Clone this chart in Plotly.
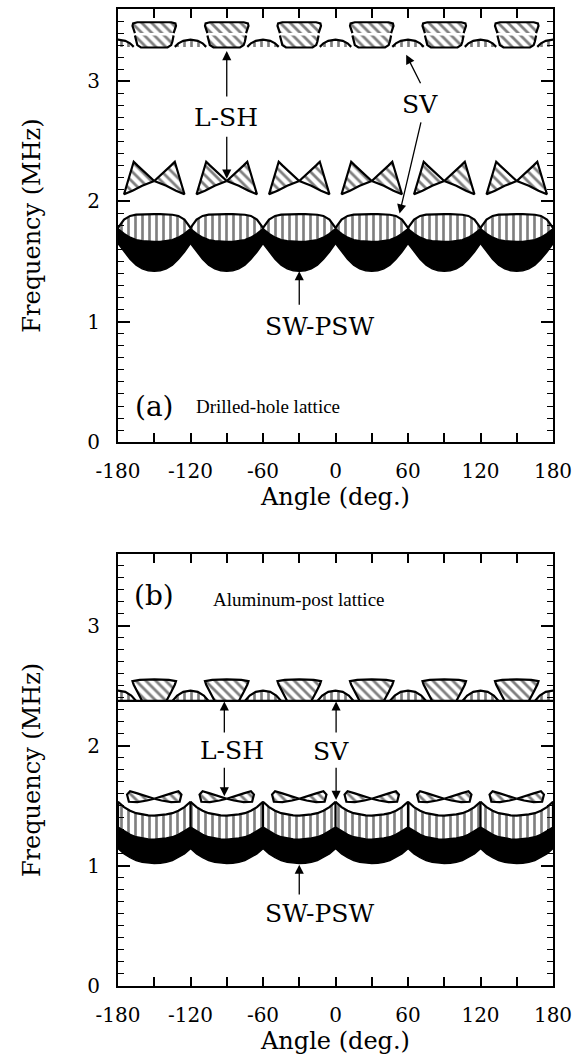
import plotly.graph_objects as go

FONT = "DejaVu Serif"
FONT2 = "Liberation Serif"

# ---------------- data ----------------
SEG_CENTERS = [-210, -150, -90, -30, 30, 90, 150, 210]   # band segment centres (deg)
CUSP_CENTERS = [-180, -120, -60, 0, 60, 120, 180]        # zone-boundary cusps (deg)

# offsets within one 60-degree period (deg)
U = [-30, -25, -20, -15, -10, -5, 0, 5, 10, 15, 20, 25, 30]

# Panel (a): drilled-hole lattice
A_SW_LOW = [1.65, 1.58, 1.52, 1.47, 1.44, 1.425, 1.42, 1.425, 1.44, 1.47, 1.52, 1.58, 1.65]
A_SW_HIGH = [1.77, 1.73, 1.70, 1.68, 1.67, 1.665, 1.665, 1.665, 1.67, 1.68, 1.70, 1.73, 1.77]
A_SV_HIGH = [1.78, 1.85, 1.88, 1.89, 1.895, 1.895, 1.895, 1.895, 1.895, 1.89, 1.88, 1.85, 1.78]
A_LSH_WING_U = [0, 8, 14, 17, 21, 25, 18, 10, 0]
A_LSH_WING_F = [2.17, 2.24, 2.30, 2.33, 2.20, 2.06, 2.09, 2.13, 2.17]
A_TRAP_UP_U = [-16, -18, -17.5, -14, 0, 14, 17.5, 18, 16]
A_TRAP_UP_F = [3.40, 3.46, 3.48, 3.49, 3.49, 3.49, 3.48, 3.46, 3.40]
A_TRAP_LO_U = [-16, -15, -14, -11, 0, 11, 14, 15, 16]
A_TRAP_LO_F = [3.38, 3.33, 3.30, 3.28, 3.28, 3.28, 3.30, 3.33, 3.38]
A_HUMP_U = [-13, -10, -6, 0, 6, 10, 13]
A_HUMP_F = [3.285, 3.315, 3.335, 3.345, 3.335, 3.315, 3.285]

# Panel (b): aluminum-post lattice
B_SW_LOW = [1.145, 1.10, 1.07, 1.045, 1.03, 1.022, 1.02, 1.022, 1.03, 1.045, 1.07, 1.10, 1.145]
B_SW_HIGH = [1.32, 1.29, 1.26, 1.24, 1.23, 1.222, 1.22, 1.222, 1.23, 1.24, 1.26, 1.29, 1.32]
B_SV_HIGH = [1.535, 1.49, 1.46, 1.44, 1.43, 1.422, 1.42, 1.422, 1.43, 1.44, 1.46, 1.49, 1.535]
B_LSH_WING_U = [0, 6, 14, 20, 22.5, 21, 14, 6, 0]
B_LSH_WING_F = [1.56, 1.582, 1.605, 1.622, 1.595, 1.535, 1.532, 1.545, 1.56]
B_TRAP_U = [-10, -14, -17, -18, -12, 0, 12, 18, 17, 14, 10]
B_TRAP_F = [2.375, 2.45, 2.51, 2.54, 2.55, 2.555, 2.55, 2.54, 2.51, 2.45, 2.375]
B_HUMP_U = [-15, -11, -6, 0, 6, 11, 15]
B_HUMP_F = [2.375, 2.42, 2.45, 2.46, 2.45, 2.42, 2.375]
B_BASELINE = 2.375

X_TICKS = [-180, -120, -60, 0, 60, 120, 180]
Y_TICKS = [0, 1, 2, 3]


# ---------------- helpers ----------------
def tile(centers, us, fs, mirror=False):
    xs, ys = [], []
    for c in centers:
        xs += [c + u for u in us] + [None]
        ys += list(fs) + [None]
        if mirror:
            xs += [c - u for u in us] + [None]
            ys += list(fs) + [None]
    return xs, ys


def band(centers, us, low, high):
    xs, ys = [], []
    for c in centers:
        xs += [c + u for u in us] + [c + u for u in reversed(us)] + [None]
        ys += list(low) + list(reversed(high)) + [None]
    return xs, ys


def poly(xs, ys, xa, ya, kind):
    kw = dict(x=xs, y=ys, xaxis=xa, yaxis=ya, mode="lines", fill="toself",
              line=dict(color="black", width=2.2), hoverinfo="skip")
    if kind == "solid":
        kw["fillcolor"] = "black"
        kw["line"] = dict(color="black", width=1.5)
    elif kind == "vert":
        kw["fillcolor"] = "white"
        kw["fillpattern"] = dict(shape="|", fgcolor="black", bgcolor="white",
                                 size=7, solidity=0.38)
    elif kind == "diag":
        kw["fillcolor"] = "white"
        kw["fillpattern"] = dict(shape="\\", fgcolor="black", bgcolor="white",
                                 size=7, solidity=0.4)
    return go.Scatter(**kw)


fig = go.Figure()

# ---- panel (a)
xa, ya = "x", "y"
fig.add_trace(poly(*band(SEG_CENTERS, U, A_SW_LOW, A_SW_HIGH), xa, ya, "solid"))
fig.add_trace(poly(*band(SEG_CENTERS, U, A_SW_HIGH, A_SV_HIGH), xa, ya, "vert"))
fig.add_trace(poly(*tile(SEG_CENTERS, A_LSH_WING_U, A_LSH_WING_F, mirror=True), xa, ya, "diag"))
fig.add_trace(poly(*tile(SEG_CENTERS, A_TRAP_UP_U, A_TRAP_UP_F), xa, ya, "diag"))
fig.add_trace(poly(*tile(SEG_CENTERS, A_TRAP_LO_U, A_TRAP_LO_F), xa, ya, "diag"))
fig.add_trace(poly(*tile(CUSP_CENTERS, A_HUMP_U, A_HUMP_F), xa, ya, "vert"))

# ---- panel (b)
xa, ya = "x2", "y2"
fig.add_trace(poly(*band(SEG_CENTERS, U, B_SW_LOW, B_SW_HIGH), xa, ya, "solid"))
fig.add_trace(poly(*band(SEG_CENTERS, U, B_SW_HIGH, B_SV_HIGH), xa, ya, "vert"))
fig.add_trace(poly(*tile(SEG_CENTERS, B_LSH_WING_U, B_LSH_WING_F, mirror=True), xa, ya, "diag"))
fig.add_trace(poly(*tile(SEG_CENTERS, B_TRAP_U, B_TRAP_F), xa, ya, "diag"))
fig.add_trace(poly(*tile(CUSP_CENTERS, B_HUMP_U, B_HUMP_F), xa, ya, "vert"))
fig.add_trace(go.Scatter(x=[-180, 180], y=[B_BASELINE, B_BASELINE], xaxis=xa, yaxis=ya,
                         mode="lines", line=dict(color="black", width=2.2), hoverinfo="skip"))

# ---------------- annotations ----------------
ann = []


def label(xref, yref, x, y, text, size, xanchor="center", family=FONT):
    ann.append(dict(xref=xref, yref=yref, x=x, y=y, text=text, showarrow=False,
                    xanchor=xanchor, yanchor="middle",
                    font=dict(family=family, size=size, color="black")))


def arrow(xref, yref, x0, y0, x1, y1):
    ann.append(dict(xref=xref, yref=yref, axref=xref, ayref=yref,
                    x=x1, y=y1, ax=x0, ay=y0, text="", showarrow=True,
                    arrowhead=2, arrowsize=1.4, arrowwidth=1.3, arrowcolor="black",
                    standoff=0, startstandoff=0))


# panel (a)
label("x", "y", -91, 2.70, "L-SH", 25)
arrow("x", "y", -90, 2.86, -90, 3.25)
arrow("x", "y", -90, 2.55, -90, 2.19)
label("x", "y", 70, 2.81, "SV", 25)
arrow("x", "y", 71, 2.97, 58.5, 3.22)
arrow("x", "y", 71, 2.67, 53, 1.90)
label("x", "y", -13, 0.96, "SW-PSW", 25)
arrow("x", "y", -30, 1.13, -30, 1.42)
label("x", "y", -150, 0.30, "(a)", 28)
label("x", "y", -117, 0.30, "Drilled-hole lattice", 19, xanchor="left", family=FONT2)

# panel (b)
label("x2", "y2", -86, 1.96, "L-SH", 25)
arrow("x2", "y2", -92, 2.10, -92, 2.37)
arrow("x2", "y2", -92, 1.83, -92, 1.58)
label("x2", "y2", -3.5, 1.95, "SV", 25)
arrow("x2", "y2", 0.5, 2.10, 0.5, 2.37)
arrow("x2", "y2", 0.5, 1.83, 0.5, 1.55)
label("x2", "y2", -13, 0.60, "SW-PSW", 25)
arrow("x2", "y2", -30, 0.75, -30, 1.01)
label("x2", "y2", -150, 3.25, "(b)", 28)
label("x2", "y2", -103, 3.22, "Aluminum-post lattice", 19, xanchor="left", family=FONT2)

# ---------------- axes ----------------
xcommon = dict(range=[-180, 180], tickvals=X_TICKS, ticktext=[str(v) for v in X_TICKS],
               ticks="inside", ticklen=9, tickwidth=1.5, tickcolor="black",
               minor=dict(dtick=30, tick0=-180, ticks="inside", ticklen=9, tickwidth=1.5,
                          tickcolor="black"),
               showline=True, linewidth=2, linecolor="black", mirror="allticks",
               showgrid=False, zeroline=False, ticklabelstandoff=10,
               tickfont=dict(family=FONT, size=20, color="black"),
               title=dict(text="Angle (deg.)", font=dict(family=FONT, size=24, color="black"),
                          standoff=6))
ycommon = dict(range=[0, 3.6], tickvals=Y_TICKS, ticks="inside", ticklen=12, tickwidth=1.5,
               tickcolor="black",
               minor=dict(dtick=0.1, tick0=0, ticks="inside", ticklen=6, tickwidth=1.3,
                          tickcolor="black"),
               showline=True, linewidth=2, linecolor="black", mirror="allticks",
               showgrid=False, zeroline=False, ticklabelstandoff=12,
               tickfont=dict(family=FONT, size=20, color="black"),
               title=dict(text="Frequency (MHz)", font=dict(family=FONT, size=24, color="black"),
                          standoff=40))

fig.update_layout(
    width=580, height=1061,
    margin=dict(l=118, r=27, t=7, b=75),
    paper_bgcolor="white", plot_bgcolor="white",
    showlegend=False,
    xaxis=dict(domain=[0, 1], anchor="y", **xcommon),
    yaxis=dict(domain=[0.5567, 1], anchor="x", **ycommon),
    xaxis2=dict(domain=[0, 1], anchor="y2", **xcommon),
    yaxis2=dict(domain=[0, 0.4423], anchor="x2", **ycommon),
    annotations=ann,
)

fig.write_html("out.html", config={"displayModeBar": False},
               post_script="document.body.style.margin='0px';")
